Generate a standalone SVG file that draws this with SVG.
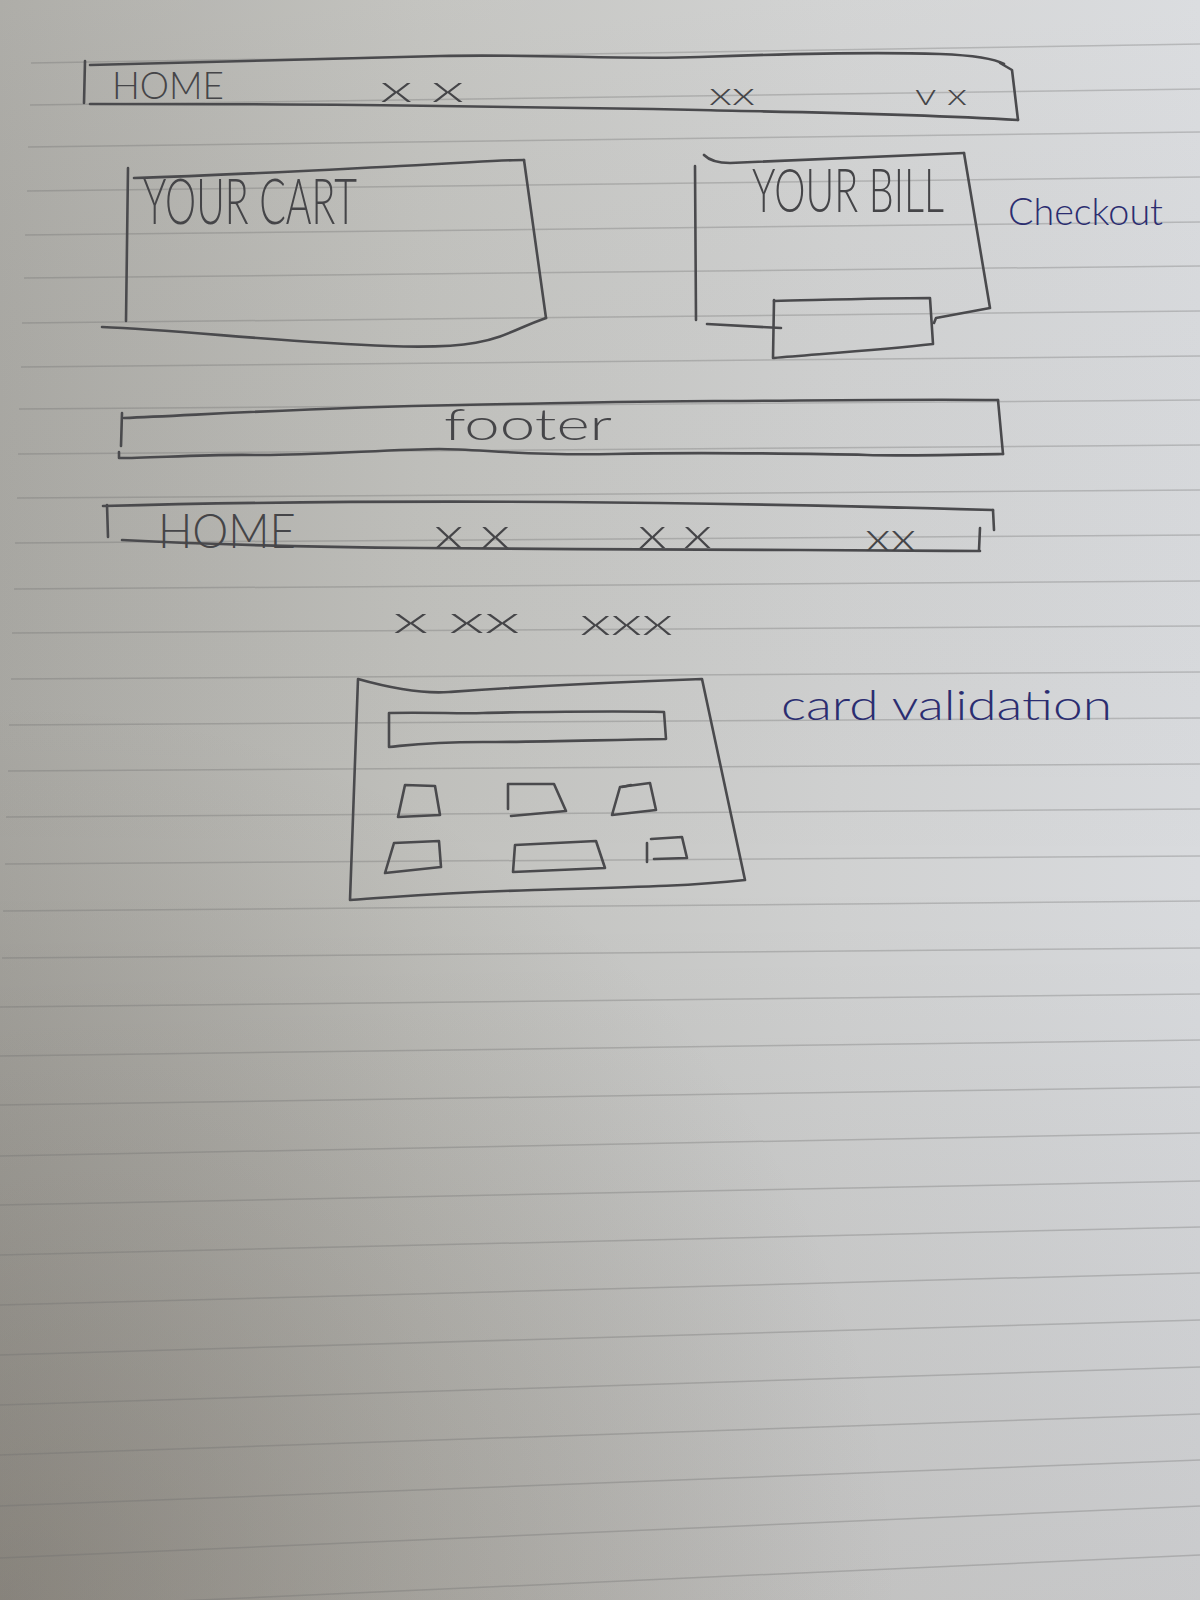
<svg xmlns="http://www.w3.org/2000/svg" width="1200" height="1600" viewBox="0 0 1200 1600">
  <defs>
    <linearGradient id="paperX" x1="0" y1="0" x2="1" y2="0">
      <stop offset="0" stop-color="#a9a8a3"/>
      <stop offset="0.35" stop-color="#c0c0bc"/>
      <stop offset="0.7" stop-color="#d0d1d1"/>
      <stop offset="1" stop-color="#d9dbde"/>
    </linearGradient>
    <linearGradient id="paperY" x1="0" y1="0" x2="0" y2="1">
      <stop offset="0" stop-color="#ffffff" stop-opacity="0.06"/>
      <stop offset="0.55" stop-color="#000000" stop-opacity="0"/>
      <stop offset="1" stop-color="#3c3228" stop-opacity="0.1"/>
    </linearGradient>
    <radialGradient id="shadeBL" cx="0" cy="1600" r="900" gradientUnits="userSpaceOnUse">
      <stop offset="0" stop-color="#463c30" stop-opacity="0.26"/>
      <stop offset="1" stop-color="#463c30" stop-opacity="0"/>
    </radialGradient>
    <style>
      .rule { stroke: #6c6c6e; stroke-opacity: 0.32; stroke-width: 1.5; fill: none; }
      .pen { fill: none; stroke: #4a4a4d; stroke-width: 2.6; stroke-linecap: round; stroke-linejoin: round; }
      .caps { font-family: Lato, "Liberation Sans", sans-serif; font-weight: 300; fill: #454548; }
      .mark { font-family: Lato, "Liberation Sans", sans-serif; font-weight: 300; fill: #454548; }
      .ink { font-family: Lato, "Liberation Sans", sans-serif; font-weight: 300; fill: #2b2d70; }
    </style>
  </defs>

  <!-- paper -->
  <rect x="0" y="0" width="1200" height="1600" fill="url(#paperX)"/>
  <rect x="0" y="0" width="1200" height="1600" fill="url(#paperY)"/>
  <rect x="0" y="0" width="1200" height="1600" fill="url(#shadeBL)"/>

  <!-- ruled lines -->
  <g id="ruling" class="rule">
    <path d="M31 63 L1200 44"/>
    <path d="M30 105 L1200 89"/>
    <path d="M28 147 L1200 132"/>
    <path d="M27 191 L1200 177"/>
    <path d="M25 235 L1200 222"/>
    <path d="M24 278 L1200 266"/>
    <path d="M22 323 L1200 311"/>
    <path d="M21 367 L1200 356"/>
    <path d="M19 409 L1200 400"/>
    <path d="M18 454 L1200 445"/>
    <path d="M17 498 L1200 490"/>
    <path d="M15 543 L1200 535"/>
    <path d="M14 589 L1200 581"/>
    <path d="M12 633 L1200 626"/>
    <path d="M11 679 L1200 672"/>
    <path d="M9 725 L1200 718"/>
    <path d="M8 771 L1200 764"/>
    <path d="M6 817 L1200 809"/>
    <path d="M5 864 L1200 856"/>
    <path d="M3 911 L1200 901"/>
    <path d="M2 958 L1200 948"/>
    <path d="M0 1007 L1200 994"/>
    <path d="M0 1056 L1200 1040"/>
    <path d="M0 1105 L1200 1087"/>
    <path d="M0 1156 L1200 1133"/>
    <path d="M0 1205 L1200 1181"/>
    <path d="M0 1255 L1200 1227"/>
    <path d="M0 1305 L1200 1273"/>
    <path d="M0 1355 L1200 1320"/>
    <path d="M0 1405 L1200 1367"/>
    <path d="M0 1455 L1200 1414"/>
    <path d="M0 1506 L1200 1460"/>
    <path d="M0 1558 L1200 1506"/>
    <path d="M0 1609 L1200 1555"/>
  </g>

  <!-- checkout page: top navigation bar -->
  <g id="nav-top">
    <path class="pen" d="M85 61 L84 103"/>
    <path class="pen" d="M90 65 C200 63, 330 58, 440 56 S620 60, 700 57 S880 52, 940 54 Q990 56, 1004 64"/>
    <path class="pen" d="M1000 63 L1012 70 L1018 120"/>
    <path class="pen" d="M90 104 C200 104, 330 104, 440 106 S620 108, 700 110 S900 113, 1018 120"/>
    <text class="caps" x="112" y="99" font-size="38" textLength="112" lengthAdjust="spacingAndGlyphs">HOME</text>
    <text class="mark" x="380" y="102" font-size="38" textLength="84" lengthAdjust="spacingAndGlyphs">x x</text>
    <text class="mark" x="709" y="105" font-size="32" textLength="46" lengthAdjust="spacingAndGlyphs">xx</text>
    <text class="mark" x="915" y="105" font-size="30" textLength="52" lengthAdjust="spacingAndGlyphs">v x</text>
  </g>

  <!-- cart panel -->
  <g id="cart">
    <path class="pen" d="M128 168 L126 321"/>
    <path class="pen" d="M134 178 C230 175, 320 170, 400 166 S500 160, 524 160"/>
    <path class="pen" d="M524 160 L546 318"/>
    <path class="pen" d="M102 327 C180 330, 280 342, 388 346 S500 334, 546 318"/>
    <text class="caps" transform="translate(143 224) scale(1 1.6)" x="0" y="0" font-size="40" textLength="214" lengthAdjust="spacingAndGlyphs">YOUR CART</text>
  </g>

  <!-- bill panel with pay button -->
  <g id="bill">
    <path class="pen" d="M695 166 L696 320"/>
    <path class="pen" d="M704 155 Q712 163, 730 163 C790 160, 850 158, 964 153"/>
    <path class="pen" d="M964 153 L990 308 L936 318 L934 323"/>
    <path class="pen" d="M707 324 L781 328"/>
    <path class="pen" d="M774 301 C820 300, 880 298, 930 298 L933 344 C880 350, 820 354, 774 358"/>
    <path class="pen" d="M774 300 L773 358"/>
    <text class="caps" transform="translate(752 212) scale(1 1.6)" x="0" y="0" font-size="38" textLength="192" lengthAdjust="spacingAndGlyphs">YOUR BILL</text>
  </g>

  <g id="label-checkout">
    <text class="ink" x="1008" y="225" font-size="38" textLength="155" lengthAdjust="spacingAndGlyphs">Checkout</text>
  </g>

  <!-- footer bar -->
  <g id="footer">
    <path class="pen" d="M122 413 L121 446"/>
    <path class="pen" d="M124 418 C200 415, 300 408, 459 405 S650 401, 714 401 S900 399, 998 400"/>
    <path class="pen" d="M998 400 L1003 454"/>
    <path class="pen" d="M1003 454 C950 455, 900 456, 867 455 S700 452, 612 454 S480 449, 439 449 S300 456, 255 455 S150 458, 119 458 L119 452"/>
    <text class="caps" x="444" y="440" font-size="44" textLength="168" lengthAdjust="spacingAndGlyphs">footer</text>
  </g>

  <!-- card page: navigation bar -->
  <g id="nav-card">
    <path class="pen" d="M107 505 L108 537"/>
    <path class="pen" d="M103 506 C250 502, 400 501, 560 502 S850 506, 993 510"/>
    <path class="pen" d="M993 510 L994 530"/>
    <path class="pen" d="M980 528 L979 550"/>
    <path class="pen" d="M122 540 C200 544, 300 547, 420 548 S700 550, 800 550 S930 551, 980 551"/>
    <text class="caps" x="158" y="548" font-size="48" textLength="138" lengthAdjust="spacingAndGlyphs">HOME</text>
    <text class="mark" x="434" y="548" font-size="42" textLength="76" lengthAdjust="spacingAndGlyphs">x x</text>
    <text class="mark" x="638" y="548" font-size="42" textLength="74" lengthAdjust="spacingAndGlyphs">x x</text>
    <text class="mark" x="865" y="551" font-size="40" textLength="51" lengthAdjust="spacingAndGlyphs">xx</text>
  </g>

  <!-- sub-navigation marks -->
  <g id="subnav">
    <text class="mark" x="393" y="633" font-size="38" textLength="127" lengthAdjust="spacingAndGlyphs">x xx</text>
    <text class="mark" x="580" y="635" font-size="38" textLength="93" lengthAdjust="spacingAndGlyphs">xxx</text>
  </g>

  <!-- card form -->
  <g id="card-form">
    <path class="pen" d="M358 679 C390 688, 420 694, 449 692 S560 684, 702 679 L745 880 C690 886, 640 887, 534 890 S400 897, 350 900 L358 679"/>
    <path class="pen" d="M389 713 C430 712, 460 714, 483 713 S620 711, 664 712 L666 739 C600 740, 540 742, 483 742 S410 745, 389 747 Z"/>
    <path class="pen" d="M405 785 L435 786 L440 815 L398 817 Z"/>
    <path class="pen" d="M508 784 L554 784 L566 811 L511 816 M508 784 L508 809"/>
    <path class="pen" d="M620 787 L650 783 L656 810 L612 815 Z"/>
    <path class="pen" d="M622 787 L631 785" stroke-width="4.5"/>
    <path class="pen" d="M394 843 L439 841 L441 867 L385 873 Z"/>
    <path class="pen" d="M515 845 L596 841 L605 868 L513 872 Z"/>
    <path class="pen" d="M651 839 L682 837 L687 858 L654 859 M647 843 L647 862"/>
  </g>

  <g id="label-card">
    <text class="ink" x="781" y="720" font-size="42" textLength="331" lengthAdjust="spacingAndGlyphs">card validation</text>
  </g>
</svg>
